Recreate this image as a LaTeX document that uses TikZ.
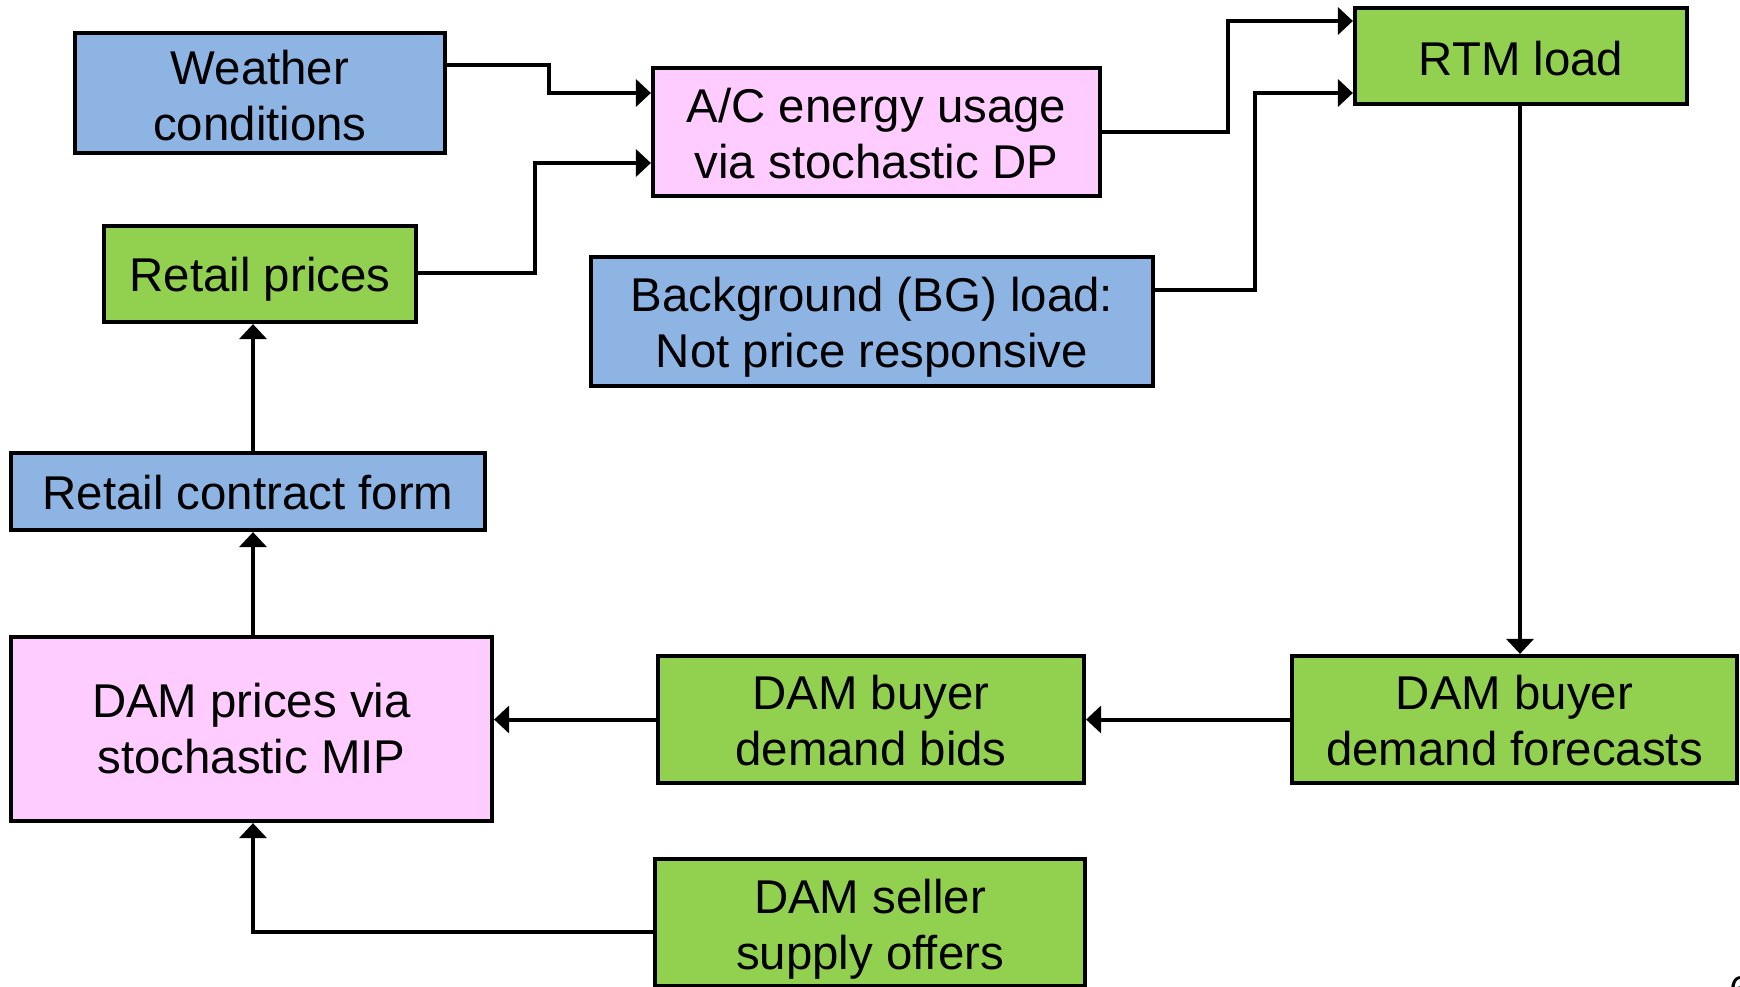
\documentclass[tikz,border=0pt]{standalone}
\usepackage{fontspec}
\setmainfont{Liberation Sans}
\usetikzlibrary{arrows.meta}
\definecolor{cblue}{HTML}{8DB4E2}
\definecolor{cpink}{HTML}{FFCCFF}
\definecolor{cgreen}{HTML}{92D050}
\newcommand{\tdn}[1]{\rule{0pt}{\dimexpr 17.4pt+#1\relax}}
\begin{document}
\begin{tikzpicture}[x=0.5pt,y=-0.5pt,
  box/.style={draw=black, line width=2.1pt, align=center, inner sep=0pt,
    font=\fontsize{23.7pt}{28pt}\selectfont},
  bluebox/.style={box, fill=cblue},
  pinkbox/.style={box, fill=cpink},
  greenbox/.style={box, fill=cgreen},
  conn/.style={line width=2pt, -{Triangle[length=7.5pt,width=13.5pt]}},
]
\useasboundingbox (0,0) rectangle (1740,986);
\node[bluebox, minimum width=185pt, minimum height=60pt] (weather) at (260,93) {\tdn{2pt}Weather\\conditions};
\node[pinkbox, minimum width=223.5pt, minimum height=64pt] (ac) at (876.5,132) {\tdn{1pt}A/C energy usage\\via stochastic DP};
\node[greenbox, minimum width=166pt, minimum height=48pt] (rtm) at (1521,56) {\tdn{2pt}RTM load};
\node[greenbox, minimum width=156pt, minimum height=48pt] (retail) at (260,274) {\tdn{5.5pt}Retail prices};
\node[bluebox, minimum width=281pt, minimum height=64.5pt] (bg) at (872,321.5) {\tdn{5.5pt}Background (BG) load:\\Not price responsive};
\node[bluebox, minimum width=237pt, minimum height=38.5pt] (contract) at (248,491.5) {\tdn{1pt}Retail contract form};
\node[pinkbox, minimum width=240.5pt, minimum height=92pt] (damp) at (251.5,729) {DAM prices via\\stochastic MIP};
\node[greenbox, minimum width=213pt, minimum height=63.5pt] (bids) at (871,719.5) {\tdn{1pt}DAM buyer\\demand bids};
\node[greenbox, minimum width=222.5pt, minimum height=63.5pt] (fore) at (1514.5,719.5) {\tdn{1pt}DAM buyer\\demand forecasts};
\node[greenbox, minimum width=215pt, minimum height=63.5pt] (seller) at (870,922.5) {\tdn{6.5pt}DAM seller\\supply offers};
\node[anchor=north west, inner sep=0pt, font=\fontsize{20pt}{24pt}\selectfont] (pagenum) at (1729,976) {6};

% connectors
\coordinate (w1) at (549,65);
\coordinate (w2) at (549,93);
\draw[conn] (weather.east |- w1) -- (w1) -- (w2) -- (ac.west |- w2);
\coordinate (r1) at (535,273);
\coordinate (r2) at (535,163);
\draw[conn] (retail.east |- r1) -- (r1) -- (r2) -- (ac.west |- r2);
\coordinate (a1) at (1228,132);
\coordinate (a2) at (1228,21);
\draw[conn] (ac.east |- a1) -- (a1) -- (a2) -- (rtm.west |- a2);
\coordinate (b1) at (1255,290);
\coordinate (b2) at (1255,93);
\draw[conn] (bg.east |- b1) -- (b1) -- (b2) -- (rtm.west |- b2);
\coordinate (t1) at (1520,0);
\draw[conn] (rtm.south -| t1) -- (fore.north -| t1);
\draw[conn] (fore.west) -- (bids.east);
\draw[conn] (bids.west) -- (bids.west -| damp.east);
\coordinate (s1) at (253,932);
\draw[conn] (seller.west |- s1) -- (s1) -- (damp.south -| s1);
\draw[conn] (damp.north -| s1) -- (contract.south -| s1);
\draw[conn] (contract.north -| s1) -- (retail.south -| s1);
\end{tikzpicture}
\end{document}
